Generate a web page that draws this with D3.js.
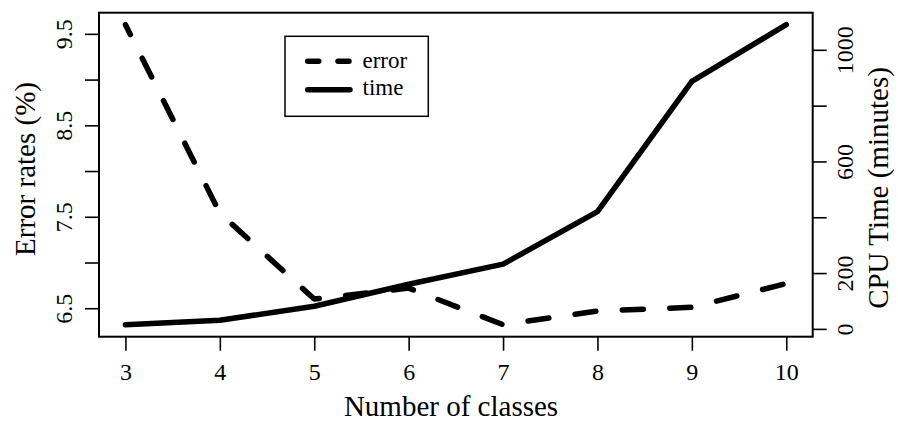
<!DOCTYPE html>
<html>
<head>
<meta charset="utf-8">
<script src="https://cdn.jsdelivr.net/npm/d3@7"></script>
<style>
  html, body { margin: 0; padding: 0; background: #fff; }
  svg { display: block; font-family: "Liberation Serif", "Times New Roman", serif; }
  .axis text { font-family: "Liberation Serif", "Times New Roman", serif; font-size: 24px; fill: #000; }
  .axis line { stroke: #000; stroke-width: 1.6; }
</style>
</head>
<body>
<div id="chart"></div>
<script>
// values
const classes = [3, 4, 5, 6, 7, 8, 9, 10];
const errorRates = [9.60, 7.54, 6.60, 6.72, 6.32, 6.47, 6.51, 6.77];
const cpuTime = [15, 31, 81, 160, 232, 420, 887, 1090];
const errTicks = [6.5, 7, 7.5, 8, 8.5, 9, 9.5];
const errLabels = [6.5, 7.5, 8.5, 9.5];
const timeTicks = [0, 200, 400, 600, 800, 1000];
const timeLabels = [0, 200, 600, 1000];

const W = 898, H = 421;
const M = {top: 12.7, right: 85.3, bottom: 84.3, left: 99};
const innerW = W - M.left - M.right;
const innerH = H - M.top - M.bottom;

// R style 4% padding on both ends
function padded(vals) {
  const [lo, hi] = d3.extent(vals);
  const p = (hi - lo) * 0.04;
  return [lo - p, hi + p];
}

const svg = d3.select("#chart").append("svg").attr("width", W).attr("height", H);
const g = svg.append("g").attr("transform", `translate(${M.left},${M.top})`);

const x = d3.scaleLinear().domain(padded(classes)).range([0, innerW]);
const yErr = d3.scaleLinear().domain(padded(errorRates)).range([innerH, 0]);
const yTime = d3.scaleLinear().domain(padded(cpuTime)).range([innerH, 0]);

// axes
const xAxis = g.append("g").attr("class", "axis")
  .attr("transform", `translate(0,${innerH})`)
  .call(d3.axisBottom(x).tickValues(classes).tickSize(14).tickFormat(d3.format("d")));
xAxis.selectAll(".tick text").attr("y", 43.3).attr("dy", 0);

const yAxisL = g.append("g").attr("class", "axis")
  .call(d3.axisLeft(yErr).tickValues(errTicks).tickSize(14)
    .tickFormat(d => errLabels.includes(d) ? d3.format(".1f")(d) : ""));
yAxisL.selectAll(".tick text")
  .attr("transform", "rotate(-90)").attr("x", 0).attr("y", -27.3).attr("dy", 0)
  .attr("text-anchor", "middle");

const yAxisR = g.append("g").attr("class", "axis")
  .attr("transform", `translate(${innerW},0)`)
  .call(d3.axisRight(yTime).tickValues(timeTicks).tickSize(14)
    .tickFormat(d => timeLabels.includes(d) ? d : ""));
yAxisR.selectAll(".tick text")
  .attr("transform", "rotate(-90)").attr("x", 0).attr("y", 40.6).attr("dy", 0)
  .attr("text-anchor", "middle");

svg.selectAll(".axis .domain").remove();

// plot frame
g.append("rect").attr("x", 0).attr("y", 0).attr("width", innerW).attr("height", innerH)
  .attr("fill", "none").attr("stroke", "#000").attr("stroke-width", 2);

// lines
const errLine = d3.line().x((d, i) => x(classes[i])).y(d => yErr(d));
const timeLine = d3.line().x((d, i) => x(classes[i])).y(d => yTime(d));

g.append("path").datum(errorRates).attr("d", errLine)
  .attr("fill", "none").attr("stroke", "#000").attr("stroke-width", 5.5)
  .attr("stroke-linecap", "round").attr("stroke-linejoin", "round")
  .attr("stroke-dasharray", "21,26.5").attr("stroke-dashoffset", 10);

g.append("path").datum(cpuTime).attr("d", timeLine)
  .attr("fill", "none").attr("stroke", "#000").attr("stroke-width", 5.5)
  .attr("stroke-linecap", "round").attr("stroke-linejoin", "round");

// axis titles
svg.append("text").attr("x", 451).attr("y", 416).attr("text-anchor", "middle")
  .attr("font-size", 29).text("Number of classes");
svg.append("text").attr("transform", "translate(35,169) rotate(-90)")
  .attr("text-anchor", "middle").attr("font-size", 29).text("Error rates (%)");
svg.append("text").attr("transform", "translate(888,188) rotate(-90)")
  .attr("text-anchor", "middle").attr("font-size", 29).text("CPU Time (minutes)");

// legend
const lg = svg.append("g").attr("transform", "translate(285,36.3)");
lg.append("rect").attr("width", 143.3).attr("height", 80)
  .attr("fill", "#fff").attr("stroke", "#000").attr("stroke-width", 1.5);
lg.append("line").attr("x1", 22.75).attr("x2", 64).attr("y1", 25).attr("y2", 25)
  .attr("stroke", "#000").attr("stroke-width", 5.5).attr("stroke-linecap", "round")
  .attr("stroke-dasharray", "11,19.25");
lg.append("line").attr("x1", 22.75).attr("x2", 65).attr("y1", 53.4).attr("y2", 53.4)
  .attr("stroke", "#000").attr("stroke-width", 5.5).attr("stroke-linecap", "round");
lg.append("text").attr("x", 77.5).attr("y", 31.7).attr("font-size", 23).text("error");
lg.append("text").attr("x", 77.5).attr("y", 58.4).attr("font-size", 23).text("time");
</script>
</body>
</html>
